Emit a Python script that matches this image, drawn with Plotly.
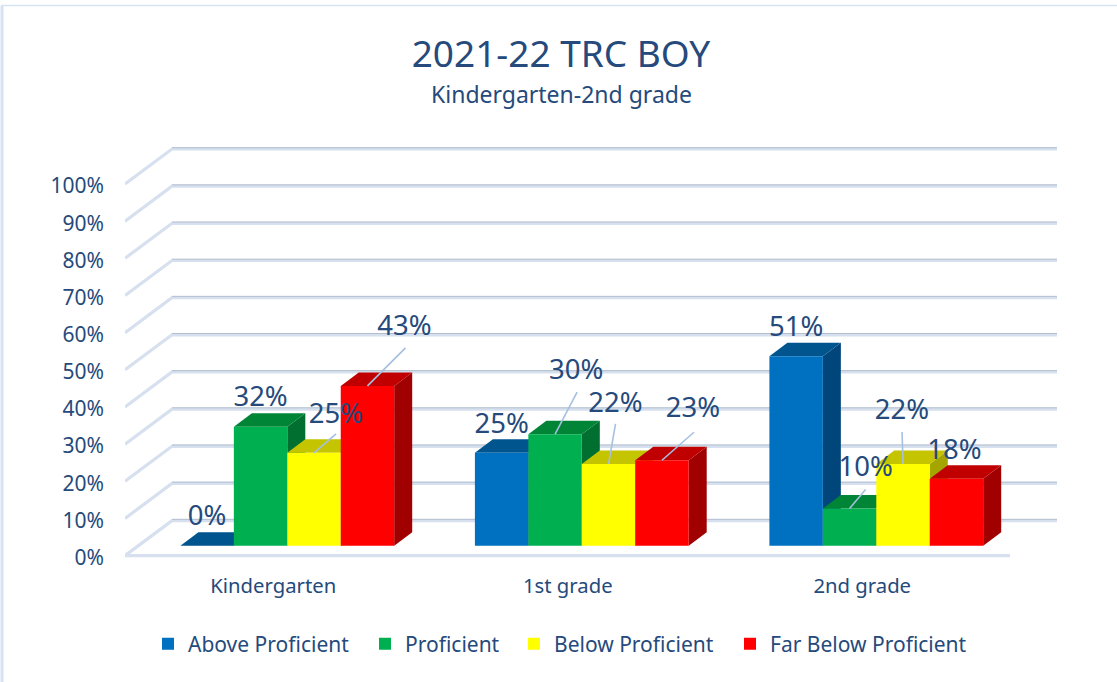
import plotly.graph_objects as go

categories = ["Kindergarten", "1st grade", "2nd grade"]
series_names = ["Above Proficient", "Proficient", "Below Proficient", "Far Below Proficient"]
above_proficient = [0, 25, 51]
proficient = [32, 30, 10]
below_proficient = [25, 22, 22]
far_below_proficient = [43, 23, 18]
series_values = [above_proficient, proficient, below_proficient, far_below_proficient]
y_ticks = [0, 10, 20, 30, 40, 50, 60, 70, 80, 90, 100]

FRONT = ["#0070C0", "#00B050", "#FFFF00", "#FF0000"]
TOP = ["#00558F", "#008537", "#C4C400", "#C00000"]
SIDE = ["#00467A", "#006F2F", "#A5A500", "#A00000"]
TEXT = "#254A7B"
FONT = "Noto Sans"

# page geometry (pixels)
W, H = 1117, 682
L, R, T, B = 125, 1062, 140, 560
PX_CAT = 294.5
PX_PCT = 3.716
Y0_PX = 555.6
x_range = [-0.5, -0.5 + (R - L) / PX_CAT]
y_range = [-(B - Y0_PX) / PX_PCT, (Y0_PX - T) / PX_PCT]


def dx(px):
    return px / PX_CAT


def dy(px):
    return px / PX_PCT


WALL_X, WALL_Y = dx(47), dy(35)
BAR_DX, BAR_DY = dx(18), dy(13.5)
BAR_W = dx(53.45)
BAR_SHIFT = dx(15.05)
BAR_BASE = dy(9.9)
n_cat = len(categories)
n_ser = len(series_names)
x_end = n_cat - 0.5 + dx(1.5)

fig = go.Figure()
LINE = dict(mode="lines", hoverinfo="skip", showlegend=False, xaxis="x", yaxis="y")
# wall and floor gridlines
for v in y_ticks:
    fig.add_trace(go.Scatter(
        x=[-0.5, -0.5 + WALL_X, x_end + WALL_X],
        y=[v, v + WALL_Y, v + WALL_Y],
        line=dict(color="#D6E0EE", width=3.2), **LINE))
    fig.add_trace(go.Scatter(
        x=[-0.5 + WALL_X, x_end + WALL_X],
        y=[v + WALL_Y + dy(1.3)] * 2,
        line=dict(color="#B2BECE", width=1), **LINE))
fig.add_trace(go.Scatter(x=[-0.5, x_end], y=[0, 0],
                         line=dict(color="#D6E0EE", width=3.2), **LINE))

# side and top faces derived from the values
for j in range(n_cat):
    for i in range(n_ser):
        v = series_values[i][j]
        xl = j + BAR_SHIFT + (i - n_ser / 2) * BAR_W
        xr = xl + BAR_W
        b = BAR_BASE
        t = BAR_BASE + v
        fig.add_trace(go.Scatter(
            x=[xr, xr + BAR_DX, xr + BAR_DX, xr, xr],
            y=[b, b + BAR_DY, t + BAR_DY, t, b],
            fill="toself", fillcolor=SIDE[i], line=dict(width=0), **LINE))
        fig.add_trace(go.Scatter(
            x=[xl, xr, xr + BAR_DX, xl + BAR_DX, xl],
            y=[t, t, t + BAR_DY, t + BAR_DY, t],
            fill="toself", fillcolor=TOP[i], line=dict(width=0), **LINE))

# front faces
legend_ids = ["legend", "legend2", "legend3", "legend4"]
for i in range(n_ser):
    fig.add_trace(go.Bar(
        x=[j + BAR_SHIFT for j in range(n_cat)],
        y=series_values[i],
        base=BAR_BASE,
        width=BAR_W,
        offset=(i - n_ser / 2) * BAR_W,
        name=series_names[i],
        marker=dict(color=FRONT[i], line=dict(width=0)),
        legend=legend_ids[i],
        hoverinfo="skip",
        xaxis="x2", yaxis="y2"))

# label offsets from the front-top centre of each bar, pixels (series, category)
label_off = {
    (0, 0): (0, -28), (1, 0): (0, -28), (2, 0): (22, -37), (3, 0): (37, -58),
    (0, 1): (0, -27), (1, 1): (21, -62), (2, 1): (7, -59), (3, 1): (31, -50),
    (0, 2): (0, -27), (1, 2): (16, -39), (2, 2): (-1, -52), (3, 2): (-2, -27),
}
leader_end = {
    (2, 0): (22, -19), (3, 0): (38, -38),
    (1, 1): (22, -42), (2, 1): (7, -40), (3, 1): (32, -28),
    (1, 2): (16, -19), (2, 2): (-1, -32),
}
label_x, label_y, label_text = [], [], []
for i in range(n_ser):
    for j in range(n_cat):
        v = series_values[i][j]
        cx = j + BAR_SHIFT + (i - n_ser / 2 + 0.5) * BAR_W
        t = BAR_BASE + v
        ox, oy = label_off[(i, j)]
        label_x.append(cx + dx(ox))
        label_y.append(t - dy(oy))
        label_text.append(f"{v}%")
        if (i, j) in leader_end:
            ex, ey = leader_end[(i, j)]
            fig.add_trace(go.Scatter(
                x=[cx, cx + dx(ex)], y=[t, t - dy(ey)], mode="lines",
                line=dict(color="#A6C0E0", width=1.6), hoverinfo="skip",
                showlegend=False, xaxis="x3", yaxis="y3"))
fig.add_trace(go.Scatter(
    x=label_x, y=label_y, text=label_text, mode="text",
    textposition="middle center",
    textfont=dict(family=FONT, size=27.5, color=TEXT),
    hoverinfo="skip", showlegend=False, xaxis="x3", yaxis="y3", cliponaxis=False))

plot_w = R - L
legend_px = [148, 365, 514, 730]


def legend_cfg(px):
    return dict(x=(px - L) / plot_w, y=-(644 - B) / (B - T), xanchor="left", yanchor="middle",
                orientation="h", bgcolor="rgba(0,0,0,0)",
                font=dict(family=FONT, size=21, color=TEXT))


hidden = dict(range=x_range, visible=False, fixedrange=True)
layout = dict(
    width=W, height=H,
    margin=dict(l=L, r=W - R, t=T, b=H - B, pad=0, autoexpand=False),
    paper_bgcolor="white", plot_bgcolor="rgba(0,0,0,0)",
    barmode="overlay",
    showlegend=True,
    font=dict(family=FONT, color=TEXT),
    title=dict(
        text="2021-22 TRC BOY",
        x=561 / W, xanchor="center", xref="container",
        y=1 - 54 / H, yanchor="middle", yref="container",
        font=dict(family=FONT, size=37, color=TEXT),
    ),
    annotations=[dict(
        text="Kindergarten-2nd grade", xref="paper", yref="paper",
        x=(561 - L) / plot_w, y=(B - 94) / (B - T), xanchor="center", yanchor="middle",
        showarrow=False, font=dict(family=FONT, size=23, color=TEXT))],
    xaxis=dict(range=x_range, tickmode="array", tickvals=list(range(n_cat)), ticktext=categories,
               showgrid=False, zeroline=False, showline=False, ticks="", automargin=False,
               ticklabelstandoff=12, ticklabelshift=1,
               tickfont=dict(family=FONT, size=20.3, color=TEXT), fixedrange=True),
    yaxis=dict(range=y_range, tickmode="array", tickvals=y_ticks, ticktext=[f"{v}%" for v in y_ticks],
               showgrid=False, zeroline=False, showline=False, ticks="", automargin=False,
               ticklabelstandoff=20, ticklabelshift=2,
               tickfont=dict(family=FONT, size=21, color=TEXT), fixedrange=True),
    xaxis2=dict(overlaying="x", **hidden),
    yaxis2=dict(overlaying="y", range=y_range, visible=False, fixedrange=True),
    xaxis3=dict(overlaying="x", **hidden),
    yaxis3=dict(overlaying="y", range=y_range, visible=False, fixedrange=True),
    legend=legend_cfg(legend_px[0]),
    legend2=legend_cfg(legend_px[1]),
    legend3=legend_cfg(legend_px[2]),
    legend4=legend_cfg(legend_px[3]),
    shapes=[
        dict(type="line", xref="paper", yref="paper", x0=-(L - 2) / plot_w, x1=-(L - 2) / plot_w,
             y0=(B - 6) / (B - T), y1=-(H - B) / (B - T), line=dict(color="#D5E3F3", width=3)),
        dict(type="line", xref="paper", yref="paper", x0=-(L - 1) / plot_w, x1=(W - L) / plot_w,
             y0=(B - 5.5) / (B - T), y1=(B - 5.5) / (B - T), line=dict(color="#D5E3F3", width=1.5)),
    ],
)
fig.update_layout(**layout)
fig.write_html("out.html", config={"displayModeBar": False},
               post_script="document.body.style.margin='0';document.body.style.overflow='hidden';")
